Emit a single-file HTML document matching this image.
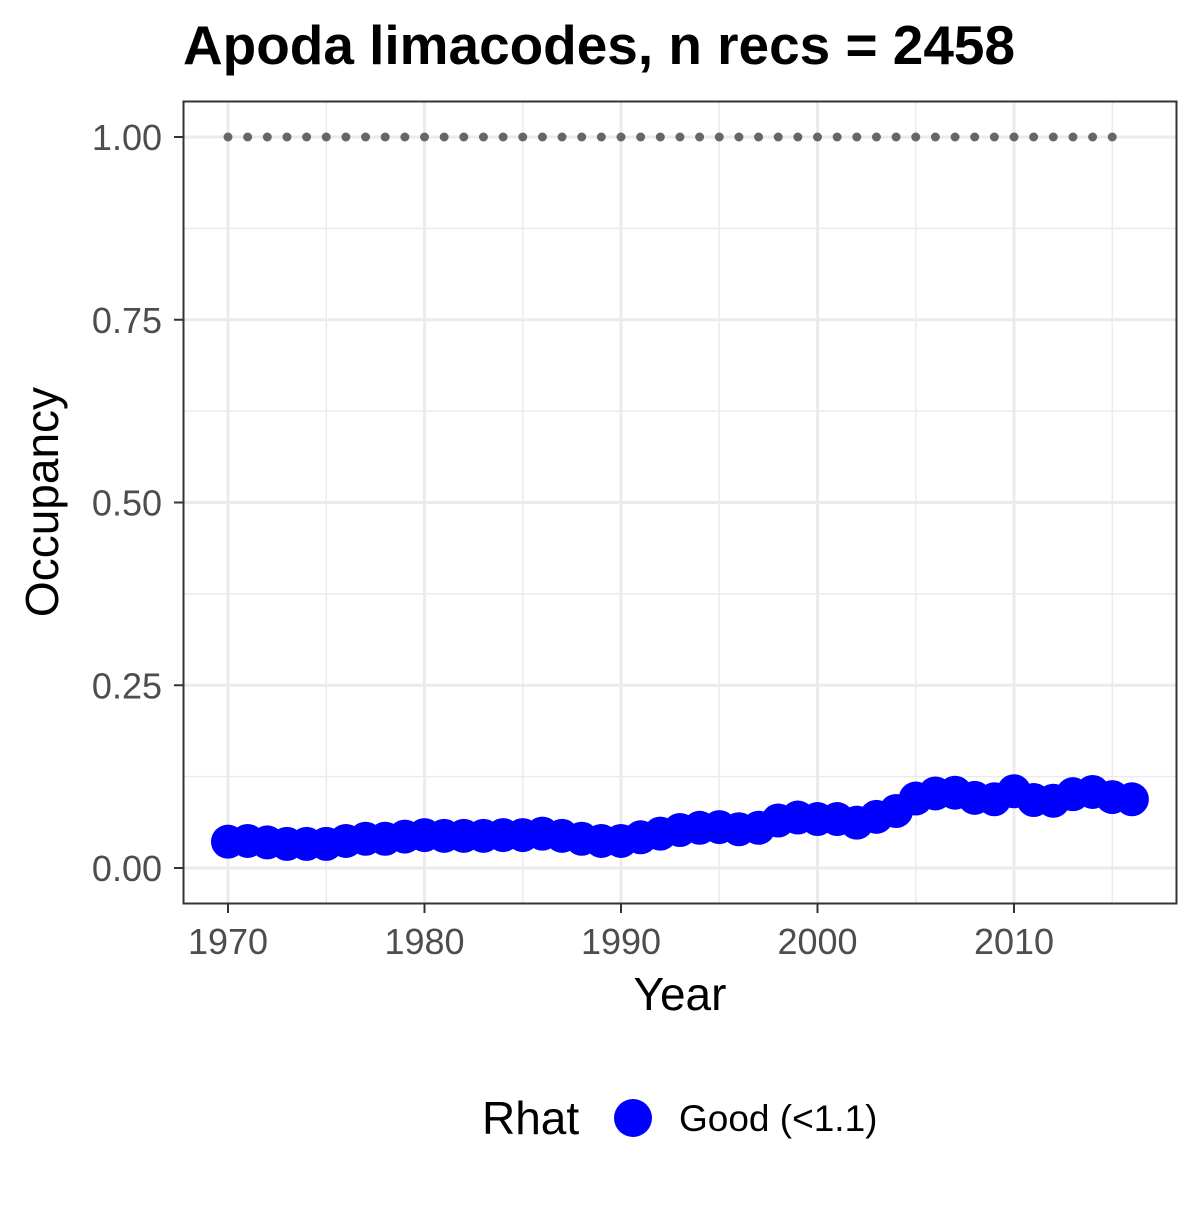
<!DOCTYPE html>
<html><head><meta charset="utf-8"><style>
body{margin:0;background:#fff;font-family:"Liberation Sans",Arial,sans-serif}
</style></head><body>
<svg width="1200" height="1200" xmlns="http://www.w3.org/2000/svg">
<text x="183" y="64" font-size="55" font-weight="bold" fill="#000" textLength="832" lengthAdjust="spacingAndGlyphs">Apoda limacodes, n recs = 2458</text>
<g id="grid"></g>
<g id="marks"></g>
<rect x="183.5" y="101.5" width="993" height="802" fill="none" stroke="#333" stroke-width="2"/>
<g id="axes"></g>
<text x="680" y="1010" font-size="46" text-anchor="middle" fill="#000">Year</text>
<text transform="translate(58,502) rotate(-90)" font-size="46" text-anchor="middle" fill="#000">Occupancy</text>
<g>
<text x="482" y="1134" font-size="46" fill="#000">Rhat</text>
<circle cx="633" cy="1118" r="19" fill="#0000ff"/>
<text x="679" y="1131" font-size="37" fill="#000">Good (&lt;1.1)</text>
</g>
</svg>
<script>
const years=[];for(let y=1970;y<=2016;y++)years.push(y);
const occupancy=[0.036,0.037,0.035,0.033,0.033,0.033,0.037,0.040,0.040,0.043,0.045,0.044,0.044,0.044,0.045,0.045,0.047,0.044,0.040,0.037,0.037,0.042,0.047,0.052,0.055,0.056,0.053,0.055,0.065,0.069,0.067,0.067,0.062,0.070,0.078,0.095,0.102,0.103,0.096,0.094,0.105,0.093,0.092,0.101,0.104,0.097,0.094];
const refYears=[];for(let y=1970;y<=2015;y++)refYears.push(y);
const refValue=1.0;
const xTicks=[1970,1980,1990,2000,2010];
const yTicks=[0,0.25,0.5,0.75,1.0];
const yTickLabels=["0.00","0.25","0.50","0.75","1.00"];
const NS="http://www.w3.org/2000/svg";
const x=v=>228+(v-1970)*19.65;
const y=v=>868-v*731;
function mk(tag,attrs,parent){const e=document.createElementNS(NS,tag);for(const k in attrs)e.setAttribute(k,attrs[k]);parent.appendChild(e);return e;}
const grid=document.getElementById('grid'),marks=document.getElementById('marks'),axes=document.getElementById('axes');
for(let v=1965;v<=2020;v+=5){const px=x(v);if(px<184||px>1176)continue;const l=mk('line',{x1:px,x2:px,y1:102,y2:903,stroke:'#ebebeb','stroke-width':v%10===0?3:1.5},grid);

}
for(let v=-0.125;v<=1.125;v+=0.125){const py=y(v);if(py<102||py>903)continue;const l=mk('line',{x1:184,x2:1176,y1:py,y2:py,stroke:'#ebebeb','stroke-width':Math.abs(v*4-Math.round(v*4))<1e-6?3:1.5},grid);

}
refYears.forEach(yr=>{const c=mk('circle',{cx:x(yr),cy:y(refValue),r:4.5,fill:'#666'},marks);

});
years.forEach((yr,i)=>{const c=mk('circle',{cx:x(yr),cy:y(occupancy[i]),r:17,fill:'#0000ff'},marks);

});
xTicks.forEach(v=>{mk('line',{x1:x(v),x2:x(v),y1:904,y2:913,stroke:'#333','stroke-width':2},axes);
const t=mk('text',{x:x(v),y:954,'font-size':36,'text-anchor':'middle',fill:'#4d4d4d'},axes);t.textContent=v;

});
yTicks.forEach((v,i)=>{mk('line',{x1:174,x2:183,y1:y(v),y2:y(v),stroke:'#333','stroke-width':2},axes);
const t=mk('text',{x:162,y:y(v)+13,'font-size':36,'text-anchor':'end',fill:'#4d4d4d'},axes);t.textContent=yTickLabels[i];

});
</script>
</body></html>
